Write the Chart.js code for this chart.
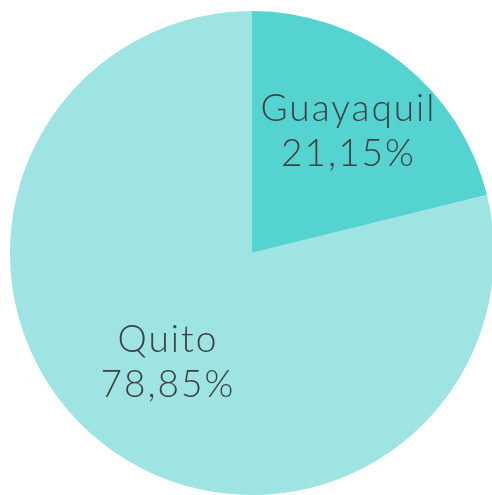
<!DOCTYPE html>
<html>
<head>
<meta charset="utf-8">
<script src="https://cdn.jsdelivr.net/npm/chart.js@4.4.1/dist/chart.umd.min.js"></script>
<style>
  html, body { margin: 0; padding: 0; background: #fff; overflow: hidden; }
  #box { position: absolute; left: 0; top: 0; width: 500px; height: 495px; }
</style>
</head>
<body>
<div id="box"><canvas id="c"></canvas></div>
<script>
const cities = ["Guayaquil", "Quito"];
const shares = [21.15, 78.85];
const shareLabels = ["21,15%", "78,85%"];
const sliceColors = ["#55d3d0", "#9de4e3"];
const labelRadius = [0.64, 0.57];

// labels drawn inside each slice, two lines
const sliceLabels = {
  id: "sliceLabels",
  afterDatasetsDraw(chart) {
    const ctx = chart.ctx;
    const arcs = chart.getDatasetMeta(0).data;
    ctx.save();
    ctx.fillStyle = "#404040";
    ctx.font = "300 37px Lato";
    ctx.letterSpacing = "2px";
    ctx.textAlign = "center";
    ctx.textBaseline = "middle";
    arcs.forEach((arc, i) => {
      const mid = (arc.startAngle + arc.endAngle) / 2;
      const r = arc.outerRadius * labelRadius[i];
      const x = arc.x + Math.cos(mid) * r;
      const y = arc.y + Math.sin(mid) * r;
      ctx.fillText(cities[i], x + 1, y - 22);
      ctx.fillText(shareLabels[i], x + 1, y + 23);
    });
    ctx.restore();
  }
};

new Chart(document.getElementById("c"), {
  type: "pie",
  data: {
    labels: cities,
    datasets: [{
      data: shares,
      backgroundColor: sliceColors,
      borderWidth: 0
    }]
  },
  options: {
    responsive: true,
    maintainAspectRatio: false,
    animation: false,
    layout: { padding: { left: 10, right: 6, top: 11, bottom: 0 } },
    plugins: {
      legend: { display: false },
      tooltip: { enabled: false }
    }
  },
  plugins: [sliceLabels]
});
</script>
</body>
</html>
